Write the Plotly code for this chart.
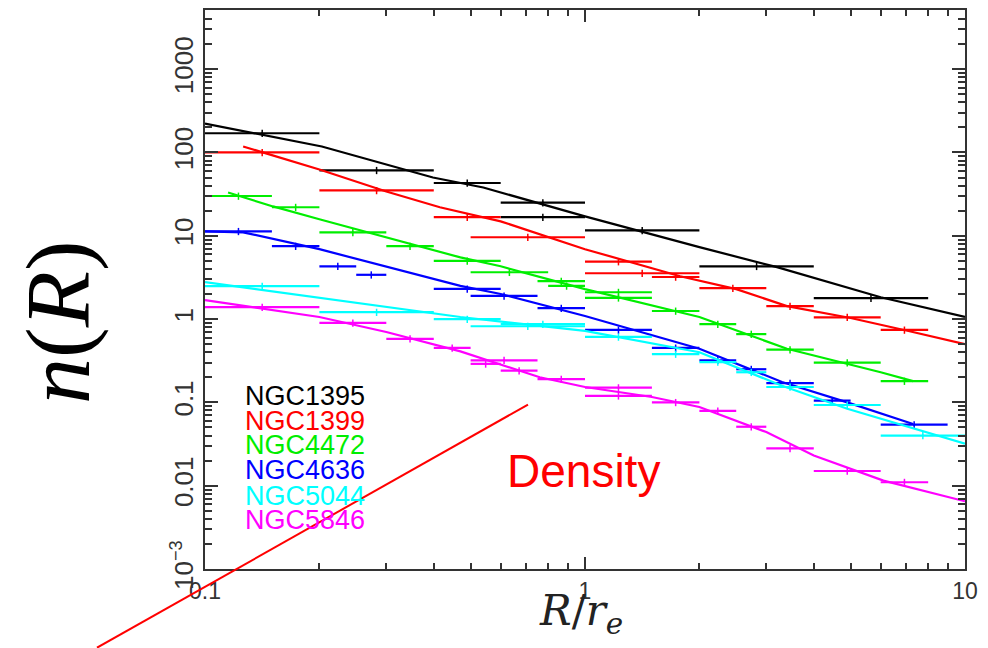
import plotly.graph_objects as go

# ---------------- data ----------------
galaxies = ["NGC1395", "NGC1399", "NGC4472", "NGC4636", "NGC5044", "NGC5846"]
colors = ["#000000", "#ff0000", "#00ee00", "#0000ff", "#00ffff", "#ff00ff"]

# binned profiles: bin low edge, bin high edge, density
ngc1395_lo = [0.1, 0.2, 0.4, 0.6, 0.6, 1.0, 2.0, 4.0]
ngc1395_hi = [0.2, 0.4, 0.6, 1.0, 1.0, 2.0, 4.0, 8.0]
ngc1395_n = [170, 61, 43, 25, 16.7, 11.6, 4.3, 1.78]

ngc1399_lo = [0.1, 0.2, 0.4, 0.5, 1.0, 1.0, 1.5, 2.0, 3.0, 4.0, 6.0]
ngc1399_hi = [0.2, 0.4, 0.6, 1.0, 1.5, 2.0, 2.0, 3.0, 4.0, 6.0, 8.0]
ngc1399_n = [100, 35, 16.7, 9.6, 4.9, 3.55, 3.2, 2.35, 1.43, 1.05, 0.74]

ngc4472_lo = [0.1, 0.15, 0.2, 0.3, 0.4, 0.5, 0.75, 0.8, 1.0, 1.0, 1.5, 2.0, 2.5, 3.0, 4.0, 6.0]
ngc4472_hi = [0.15, 0.2, 0.3, 0.4, 0.6, 0.8, 1.0, 1.0, 1.5, 1.5, 2.0, 2.5, 3.0, 4.0, 6.0, 8.0]
ngc4472_n = [30, 22, 11, 7.5, 5.0, 3.65, 2.85, 2.5, 2.1, 1.8, 1.25, 0.87, 0.66, 0.43, 0.30, 0.18]

ngc4636_lo = [0.1, 0.15, 0.2, 0.25, 0.4, 0.5, 0.75, 1.0, 1.5, 2.0, 2.5, 3.0, 4.0, 6.0]
ngc4636_hi = [0.15, 0.2, 0.25, 0.3, 0.6, 0.75, 1.0, 1.5, 2.0, 2.5, 3.0, 4.0, 5.0, 9.0]
ngc4636_n = [11.3, 7.5, 4.3, 3.4, 2.3, 1.9, 1.35, 0.74, 0.45, 0.32, 0.25, 0.17, 0.105, 0.054]

ngc5044_lo = [0.1, 0.2, 0.4, 0.6, 0.5, 1.0, 1.5, 2.0, 2.5, 3.0, 4.0, 6.0]
ngc5044_hi = [0.2, 0.4, 0.6, 1.0, 1.0, 1.5, 2.0, 2.5, 3.0, 4.0, 6.0, 10.0]
ngc5044_n = [2.48, 1.21, 1.0, 0.87, 0.82, 0.61, 0.38, 0.305, 0.23, 0.153, 0.093, 0.040]

ngc5846_lo = [0.1, 0.2, 0.3, 0.4, 0.5, 0.5, 0.6, 0.75, 1.0, 1.0, 1.5, 2.0, 2.5, 3.0, 4.0, 6.0]
ngc5846_hi = [0.2, 0.3, 0.4, 0.5, 0.75, 0.6, 0.75, 1.0, 1.5, 1.5, 2.0, 2.5, 3.0, 4.0, 6.0, 8.0]
ngc5846_n = [1.39, 0.90, 0.58, 0.45, 0.32, 0.29, 0.24, 0.19, 0.15, 0.12, 0.10, 0.079, 0.051, 0.028, 0.015, 0.011]

# fitted model curves
fit1395_r = [0.1, 0.203, 0.398, 0.54, 1.0, 1.40, 2.0, 3.2, 6.0, 10.0]
fit1395_n = [222, 118, 50, 38, 17.1, 11.3, 7.3, 4.2, 1.83, 1.06]

fit1399_r = [0.126, 0.2, 0.3, 0.415, 0.6, 1.0, 1.78, 2.5, 3.4, 5.0, 7.1, 10.0]
fit1399_n = [118, 62.5, 34, 22, 14.9, 6.9, 3.27, 2.29, 1.43, 1.03, 0.72, 0.50]

fit4472_r = [0.115, 0.151, 0.2, 0.3, 0.47, 0.6, 1.0, 2.0, 3.4, 6.0, 7.3]
fit4472_n = [33, 22.5, 15.8, 9.6, 5.5, 4.3, 2.29, 1.06, 0.44, 0.23, 0.18]

fit4636_r = [0.1, 0.126, 0.2, 0.3, 0.47, 0.6, 1.0, 2.0, 3.3, 4.9, 7.3]
fit4636_n = [11.3, 11.0, 6.9, 4.3, 2.5, 2.0, 1.09, 0.44, 0.176, 0.10, 0.055]

fit5044_r = [0.1, 0.47, 1.0, 2.0, 3.3, 4.9, 10.0]
fit5044_n = [2.77, 1.06, 0.72, 0.40, 0.158, 0.084, 0.032]

fit5846_r = [0.1, 0.2, 0.3, 0.47, 0.76, 1.0, 1.5, 2.0, 3.0, 4.0, 6.1, 10.0]
fit5846_n = [1.69, 1.06, 0.70, 0.41, 0.20, 0.153, 0.116, 0.088, 0.044, 0.023, 0.0115, 0.0065]

bins = [
    (ngc1395_lo, ngc1395_hi, ngc1395_n),
    (ngc1399_lo, ngc1399_hi, ngc1399_n),
    (ngc4472_lo, ngc4472_hi, ngc4472_n),
    (ngc4636_lo, ngc4636_hi, ngc4636_n),
    (ngc5044_lo, ngc5044_hi, ngc5044_n),
    (ngc5846_lo, ngc5846_hi, ngc5846_n),
]
fits = [
    (fit1395_r, fit1395_n), (fit1399_r, fit1399_n), (fit4472_r, fit4472_n),
    (fit4636_r, fit4636_n), (fit5044_r, fit5044_n), (fit5846_r, fit5846_n),
]

ytick_vals = [1e-3, 1e-2, 1e-1, 1, 10, 100, 1000]
ytick_text = ["10<sup>−3</sup>", "0.01", "0.1", "1", "10", "100", "1000"]
xtick_vals = [0.1, 1, 10]
xtick_text = ["0.1", "1", "10"]

# ---------------- figure ----------------
fig = go.Figure()
for name, col, (lo, hi, n), (fr, fn) in zip(galaxies, colors, bins, fits):
    xc = [(a * b) ** 0.5 for a, b in zip(lo, hi)]
    fig.add_trace(go.Scatter(
        x=fr, y=fn, mode="lines", name=name,
        line=dict(color=col, width=2.2), showlegend=False, hoverinfo="skip"))
    fig.add_trace(go.Scatter(
        x=xc, y=n, mode="markers", name=name,
        marker=dict(color=col, size=2),
        error_x=dict(type="data", symmetric=False,
                     array=[h - c for h, c in zip(hi, xc)],
                     arrayminus=[c - l for c, l in zip(xc, lo)],
                     color=col, thickness=2.2, width=0),
        error_y=dict(type="percent", value=10, color=col, thickness=1.5, width=0),
        showlegend=False))

fig.update_layout(
    width=988, height=648,
    margin=dict(l=205, r=23, t=8, b=79),
    paper_bgcolor="white", plot_bgcolor="white",
    showlegend=False,
    font=dict(family="Liberation Sans, Arial", size=22, color="#333"),
)
fig.update_xaxes(
    type="log", range=[-1, 1], tickmode="array", tickvals=xtick_vals, ticktext=xtick_text,
    showgrid=False, zeroline=False, showline=True, linecolor="#333", linewidth=2,
    mirror="allticks", ticks="inside", tickcolor="#333", tickwidth=1.5, ticklen=12,
    tickfont=dict(family="Liberation Sans, Arial", size=23, color="#333"),
    minor=dict(ticks="inside", ticklen=6, tickwidth=1.5, tickcolor="#333",
               dtick="D1", showgrid=False))
fig.update_yaxes(
    type="log", range=[-3, 3.71], tickmode="array", tickvals=ytick_vals, ticktext=ytick_text,
    showgrid=False, zeroline=False, showline=True, linecolor="#333", linewidth=2,
    mirror="allticks", ticks="inside", tickcolor="#333", tickwidth=1.5, ticklen=13,
    tickangle=-90,
    tickfont=dict(family="Liberation Sans, Arial", size=26, color="#333"),
    minor=dict(ticks="inside", ticklen=7, tickwidth=1.5, tickcolor="#333",
               dtick="D1", showgrid=False))

# legend text (coloured labels)
leg_y = [395, 420, 445, 470, 496, 520]
for name, col, py in zip(galaxies, colors, leg_y):
    fig.add_annotation(
        xref="paper", yref="paper", x=(243 - 205) / 760, y=(569 - py) / 561,
        xanchor="left", yanchor="middle", showarrow=False, text=name,
        font=dict(family="Liberation Sans, Arial", size=27, color=col))

# axis titles
fig.add_annotation(
    xref="paper", yref="paper", x=(58 - 205) / 760, y=(569 - 322) / 561,
    xanchor="center", yanchor="middle", showarrow=False, textangle=-90,
    text="<i>n</i>(<i>R</i>)",
    font=dict(family="Liberation Serif, Times New Roman", size=92, color="black"))
fig.add_annotation(
    xref="paper", yref="paper", x=(581 - 205) / 760, y=(569 - 614) / 561,
    xanchor="center", yanchor="middle", showarrow=False,
    text="<i>R</i>/<i>r</i><sub><i>e</i></sub>",
    font=dict(family="DejaVu Serif", size=42, color="#222"))

# "Density" callout with red line
fig.add_annotation(
    xref="paper", yref="paper", x=(505 - 205) / 760, y=(569 - 471) / 561,
    xanchor="left", yanchor="middle", showarrow=False, text="Density",
    font=dict(family="Liberation Sans, Arial", size=46, color="#ff0000"))
fig.add_shape(
    type="line", xref="paper", yref="paper",
    x0=(97 - 205) / 760, y0=(569 - 648) / 561,
    x1=(528 - 205) / 760, y1=(569 - 404) / 561,
    line=dict(color="#ff0000", width=2))

fig.write_html("out.html")
